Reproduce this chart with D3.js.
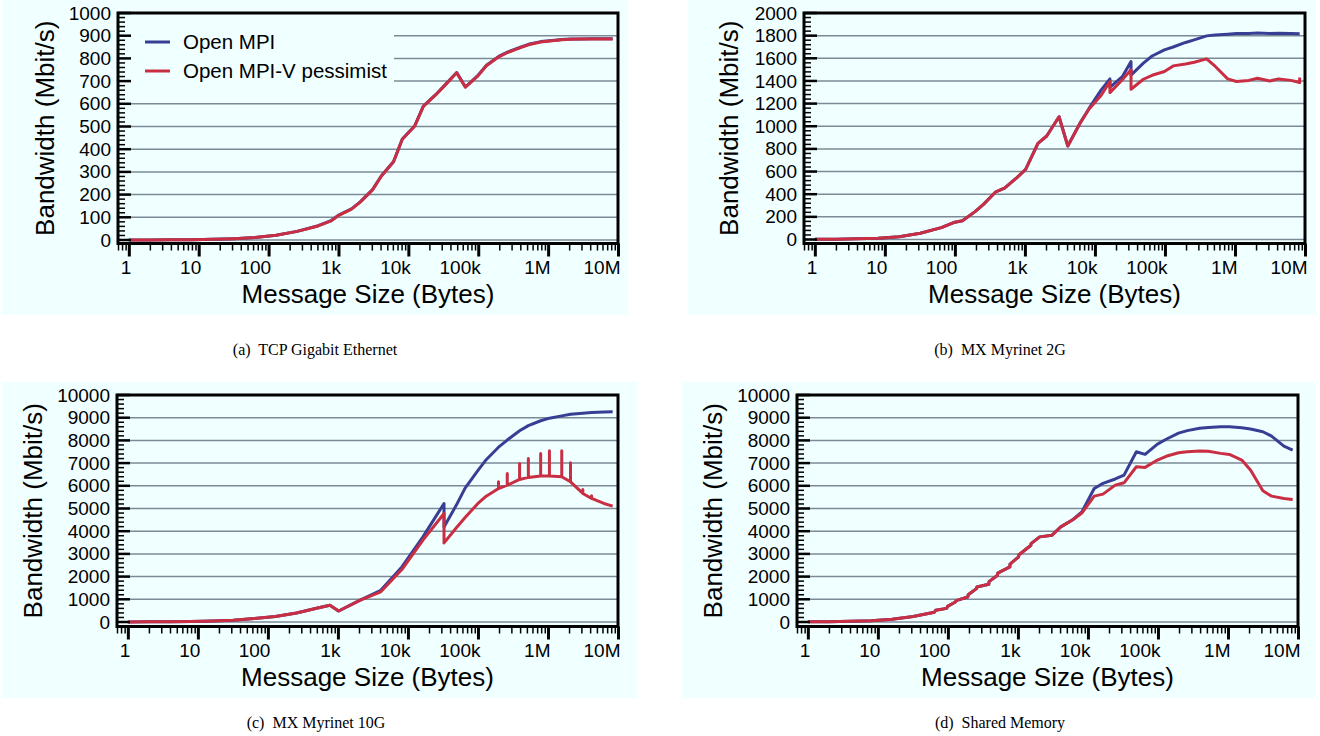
<!DOCTYPE html>
<html>
<head>
<meta charset="utf-8">
<style>
body { margin: 0; background: #fff; }
svg text { font-family: "Liberation Sans", Arial, Helvetica, sans-serif; fill: #000; }
text.caption { font-family: "Liberation Serif", "Times New Roman", serif; font-size: 16px; }
</style>
</head>
<body>
<svg id="fig" width="1320" height="736"></svg>
<script src="https://d3js.org/d3.v7.min.js"></script>
<script>
// legend / axis text
const seriesNames = ["Open MPI", "Open MPI-V pessimist"];
const xTickValues = [1, 10, 100, 1e3, 1e4, 1e5, 1e6, 1e7];
const xTickLabels = ["1", "10", "100", "1k", "10k", "100k", "1M", "10M"];
const captions = ["(a)  TCP Gigabit Ethernet", "(b)  MX Myrinet 2G", "(c)  MX Myrinet 10G", "(d)  Shared Memory"];

// (a) TCP Gigabit Ethernet
const tcpSizes = [1,2,4,8,16,32,64,128,256,512,768,1024,1536,2048,3072,4096,6144,8192,12288,16384,24576,32768,49152,65536,98304,131072,196608,262144,393216,524288,786432,1048576,1572864,2097152,3145728,4194304,6291456,8388608];
const tcpOpenMpi = [0.2,0.4,0.8,1.5,3,6,11,21,38,63,84,111,137,168,222,282,346,445,502,590,640,680,738,674,724,770,809,828,848,862,874,878,883,885,886,887,887,887];
const tcpPessimist = [0.2,0.4,0.8,1.5,3,6,11,21,38,62,83,110,136,167,221,281,345,444,501,589,639,679,737,673,722,768,807,826,846,860,872,877,882,884,885,886,886,886];

// (b) MX Myrinet 2G
const mx2gSizes = [1,2,4,8,16,32,64,96,128,192,256,384,512,768,1024,1536,2048,3072,4096,6144,8192,12288,16384,16387,24576,32768,32771,49152,65536,98304,131072,196608,262144,393216,524288,786432,1048576,1572864,2097152,3145728,4194304,6291456,8388608,8388611];
const mx2gOpenMpi = [1.5,3,6,12,25,55,105,150,165,244,310,421,454,546,619,849,914,1084,826,1030,1155,1321,1418,1344,1438,1572,1451,1557,1620,1675,1700,1740,1763,1798,1805,1813,1818,1820,1823,1820,1822,1818,1816,1816];
const mx2gPessimist = [1.5,3,6,12,25,55,105,150,165,244,310,421,454,546,619,849,914,1084,826,1026,1150,1274,1395,1297,1410,1498,1327,1415,1450,1483,1533,1550,1565,1595,1528,1418,1395,1405,1424,1400,1418,1405,1386,1430];

// (c) MX Myrinet 10G
const mx10gSizes = [1,2,4,8,16,32,64,128,256,512,768,1024,2048,4096,8192,16384,32768,32771,49152,65536,98304,131072,196608,262144,393216,524288,786432,1048576,1572864,2097152,3145728,4194304,6291456,8388608];
const mx10gOpenMpi = [3,6,12,22,42,80,150,240,400,620,737,485,950,1398,2426,3750,5222,4190,5150,5900,6650,7150,7700,8015,8425,8650,8866,8980,9080,9148,9200,9230,9255,9263];
const mx10gPessSizes = [1,2,4,8,16,32,64,128,256,512,768,1024,2048,4096,8192,16384,32768,32771,49152,65536,98304,131072,196605,196608,196611,262141,262144,262147,393213,393216,393219,524285,524288,524291,786429,786432,786435,1048573,1048576,1048579,1572861,1572864,1572867,2097149,2097152,2097155,3145725,3145728,3145731,4194301,4194304,4194307,6291456,8388608];
const mx10gPessimist = [3,6,12,22,42,80,150,240,400,620,737,485,950,1330,2311,3604,4780,3485,4150,4600,5200,5540,5880,6176,5880,6030,6545,6030,6280,6987,6280,6370,7208,6370,6430,7428,6430,6430,7543,6430,6400,7543,6400,6176,7013,6176,5664,5840,5664,5443,5560,5443,5222,5104];

// (d) Shared Memory
const shmSizes = [1,2,4,8,16,32,64,67,96,99,128,131,192,195,256,259,384,387,512,515,768,771,1024,1027,1536,1539,2048,3072,4096,6144,8192,12288,16384,24576,32768,49152,65536,98304,131072,196608,262144,393216,524288,786432,1048576,1572864,2097152,3145728,4194304,6291456,8388608];
const shmOpenMpi = [8,15,30,60,120,240,430,520,600,690,880,940,1100,1200,1470,1540,1660,1780,2060,2150,2430,2550,2870,2950,3383,3450,3750,3824,4190,4517,4852,5884,6105,6300,6471,7499,7384,7838,8050,8320,8430,8531,8570,8602,8600,8558,8500,8381,8192,7750,7574];
const shmPessimist = [8,15,30,60,120,240,430,520,600,690,880,940,1100,1200,1470,1540,1660,1780,2060,2150,2430,2550,2870,2950,3383,3450,3750,3824,4190,4517,4800,5545,5633,6030,6132,6838,6810,7133,7300,7455,7500,7530,7520,7428,7380,7133,6692,5778,5545,5443,5399];

const blue = "#393e95", red = "#c92e43", bgColor = "#f0ffff", gridColor = "#7b8a96";

const svg = d3.select("#fig");
svg.append("rect").attr("width", 1320).attr("height", 736).attr("fill", "#fff");

const panels = [
  { bg: [2, 0, 626, 315], left: 118, right: 618, top: 13, zeroY: 240, bottom: 243.5, yMax: 1000, yStep: 100, titleOff: 64,
    blue: [tcpSizes, tcpOpenMpi], red: [tcpSizes, tcpPessimist], legend: true, caption: captions[0], capX: 315, capY: 355 },
  { bg: [688, 0, 627, 315], left: 804, right: 1305, top: 13, zeroY: 239.5, bottom: 243.5, yMax: 2000, yStep: 200, titleOff: 66,
    blue: [mx2gSizes, mx2gOpenMpi], red: [mx2gSizes, mx2gPessimist], caption: captions[1], capX: 1000, capY: 355 },
  { bg: [2, 382, 635, 316], left: 117, right: 618, top: 395, zeroY: 622, bottom: 626.5, yMax: 10000, yStep: 1000, titleOff: 75,
    blue: [mx10gSizes, mx10gOpenMpi], red: [mx10gPessSizes, mx10gPessimist], caption: captions[2], capX: 316, capY: 728 },
  { bg: [682, 382, 633, 316], left: 797, right: 1298, top: 395, zeroY: 622, bottom: 626.5, yMax: 10000, yStep: 1000, titleOff: 75,
    blue: [shmSizes, shmOpenMpi], red: [shmSizes, shmPessimist], caption: captions[3], capX: 1000, capY: 728 }
];

function drawPanel(p) {
  const g = svg.append("g");
  g.append("rect").attr("x", p.bg[0]).attr("y", p.bg[1]).attr("width", p.bg[2]).attr("height", p.bg[3]).attr("fill", bgColor);

  const x = d3.scaleLog().domain([0.7, 1e7]).range([p.left, p.right]);
  const y = d3.scaleLinear().domain([0, p.yMax]).range([p.zeroY, p.top]);
  const majorY = d3.range(0, p.yMax + 1, p.yStep);
  const minorY = d3.range(0, p.yMax + 1, p.yStep / 5).filter(v => v % p.yStep !== 0);

  // gridlines
  g.append("g").selectAll("line").data(majorY.filter(v => v < p.yMax)).join("line")
    .attr("x1", p.left).attr("x2", p.right)
    .attr("y1", d => y(d)).attr("y2", d => y(d))
    .attr("stroke", gridColor).attr("stroke-width", 1.5);

  // legend box hides the grid behind it
  if (p.legend) {
    g.append("rect").attr("x", p.left + 1).attr("y", p.top + 1).attr("width", 275).attr("height", 78).attr("fill", bgColor);
  }

  // series
  const line = d3.line().x(d => x(d[0])).y(d => y(d[1]));
  g.append("path").datum(d3.zip(p.blue[0], p.blue[1])).attr("d", line)
    .attr("fill", "none").attr("stroke", blue).attr("stroke-width", 3).attr("stroke-linejoin", "round");
  g.append("path").datum(d3.zip(p.red[0], p.red[1])).attr("d", line)
    .attr("fill", "none").attr("stroke", red).attr("stroke-width", 3).attr("stroke-linejoin", "round");

  // frame
  g.append("rect").attr("x", p.left).attr("y", p.top).attr("width", p.right - p.left).attr("height", p.bottom - p.top)
    .attr("fill", "none").attr("stroke", "#000").attr("stroke-width", 3);

  // y ticks inward
  g.append("g").selectAll("line").data(minorY).join("line")
    .attr("x1", p.left).attr("x2", p.left + 7)
    .attr("y1", d => y(d)).attr("y2", d => y(d))
    .attr("stroke", "#000").attr("stroke-width", 1.5);
  g.append("g").selectAll("line").data(majorY).join("line")
    .attr("x1", p.left).attr("x2", p.left + 13)
    .attr("y1", d => y(d)).attr("y2", d => y(d))
    .attr("stroke", "#000").attr("stroke-width", 2.5);

  const yAxis = d3.axisLeft(y).tickValues(majorY).tickSize(0).tickPadding(7).tickFormat(d3.format("d"));
  const ya = g.append("g").attr("transform", `translate(${p.left},0)`).call(yAxis);
  ya.select(".domain").remove();
  ya.selectAll("text").attr("font-size", 19).attr("font-family", "Liberation Sans, Arial, sans-serif");

  // x ticks outward
  const minorX = x.ticks().filter(v => xTickValues.indexOf(v) < 0);
  const xMinor = d3.axisBottom(x).tickValues(minorX).tickSize(7).tickFormat("");
  const xm = g.append("g").attr("transform", `translate(0,${p.bottom})`).call(xMinor);
  xm.select(".domain").remove();
  xm.selectAll("line").attr("stroke-width", 1.5);

  const xMajor = d3.axisBottom(x).tickValues(xTickValues).tickSize(13)
    .tickFormat((d, i) => xTickLabels[i]);
  const xa = g.append("g").attr("transform", `translate(0,${p.bottom})`).call(xMajor);
  xa.select(".domain").remove();
  xa.selectAll("line").attr("stroke-width", 3);
  xa.selectAll("text").attr("font-size", 19).attr("font-family", "Liberation Sans, Arial, sans-serif")
    .attr("text-anchor", "end").attr("x", 2).attr("y", 30).attr("dy", 0);

  // axis titles
  g.append("text").attr("x", (p.left + p.right) / 2).attr("y", p.bottom + 59)
    .attr("text-anchor", "middle").attr("font-size", 26).text("Message Size (Bytes)");
  g.append("text").attr("transform", `translate(${p.left - p.titleOff},${(p.top + p.bottom) / 2}) rotate(-90)`)
    .attr("text-anchor", "middle").attr("font-size", 26).text("Bandwidth (Mbit/s)");

  // legend
  if (p.legend) {
    const lg = g.append("g");
    [blue, red].forEach((c, i) => {
      lg.append("line").attr("x1", p.left + 27).attr("x2", p.left + 52)
        .attr("y1", p.top + 29 + i * 29).attr("y2", p.top + 29 + i * 29)
        .attr("stroke", c).attr("stroke-width", 3);
      lg.append("text").attr("x", p.left + 65).attr("y", p.top + 36 + i * 29)
        .attr("font-size", 20.5).text(seriesNames[i]);
    });
  }

  // caption
  svg.append("text").attr("class", "caption").attr("x", p.capX).attr("y", p.capY)
    .attr("text-anchor", "middle").attr("xml:space", "preserve").text(p.caption);
}

panels.forEach(drawPanel);
</script>
</body>
</html>
